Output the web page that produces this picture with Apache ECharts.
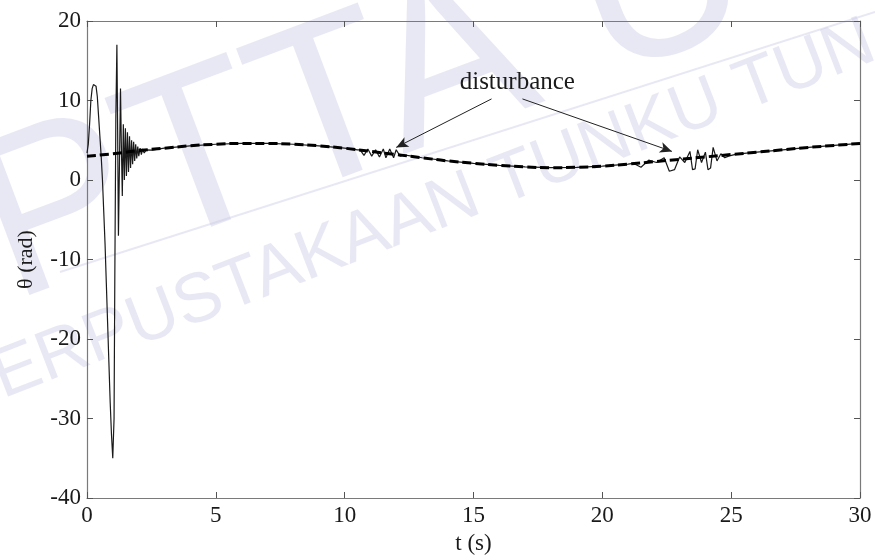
<!DOCTYPE html>
<html><head><meta charset="utf-8">
<script src="https://cdn.jsdelivr.net/npm/echarts@6/dist/echarts.min.js"></script>
<style>html,body{margin:0;padding:0;background:#fff}#c{width:875px;height:560px}</style>
</head><body><div id="c"></div>
<script>
// ---- data ----
const xTickLabels = ['0','5','10','15','20','25','30'];
const yTickLabels = ['-40','-30','-20','-10','0','10','20'];

// reference trajectory (dashed)
const refT = [0,1,2,3,4,5,6,7,8,9,10,11,12,13,14,15,16,17,18,19,20,21,22,23,24,25,26,27,28,29,30];
const refV = [3.0,3.3,3.7,4.0,4.3,4.5,4.6,4.6,4.5,4.3,4.0,3.6,3.2,2.8,2.4,2.1,1.85,1.65,1.55,1.6,1.75,2.0,2.3,2.6,2.9,3.2,3.5,3.8,4.1,4.35,4.6];

// actual response (solid)
const solidT = [0,0.05,0.1,0.15,0.2,0.25,0.3,0.35,0.4,0.45,0.5,0.55,0.6,0.65,0.7,0.75,0.8,0.85,0.9,0.95,1.0,
  1.05,1.08,1.12,1.16,1.19,1.22,1.26,1.3,1.33,1.37,1.41,1.45,1.49,1.53,1.57,1.61,1.65,1.69,1.73,1.77,1.81,1.85,1.89,1.93,1.97,2.01,2.06,2.11,2.16,2.22,2.3,2.5,
  3,4,5,6,7,8,9,10,10.5,
  10.6,10.75,10.9,11.05,11.2,11.35,11.5,11.6,11.75,11.9,12.0,12.15,12.3,
  13,14,15,16,17,18,19,20,21,
  21.2,21.5,21.8,22.1,22.4,22.6,22.8,23.0,23.2,23.4,23.5,23.6,23.7,23.85,24.0,24.1,24.2,24.3,24.45,24.6,24.75,24.9,25.2,
  26,27,28,29,30];
const solidV = [3.4,4.5,7,10,11.5,12,12,11.8,10.5,8,5.5,3,0,-4,-8,-13,-18,-23,-28,-32,-35,
  -30,-12,8,17,6,-7,2,11.5,5,-2,7,0,6.5,0.5,6,1,5.5,1.5,5,2,4.8,2.4,4.5,2.7,4.2,3.0,4.0,3.2,3.9,3.4,3.8,3.75,
  4.0,4.3,4.5,4.6,4.6,4.5,4.3,4.0,3.8,
  3.8,3.1,3.9,3.0,3.8,2.9,3.9,2.8,3.9,2.8,3.8,3.0,3.15,
  2.8,2.4,2.1,1.85,1.65,1.55,1.6,1.75,2.0,
  2.1,1.6,2.5,2.2,2.8,1.1,1.3,2.9,2.2,3.6,1.3,1.4,3.8,2.2,3.5,1.3,1.5,4.1,2.4,3.3,2.8,3.0,3.25,
  3.5,3.8,4.1,4.35,4.6];

// annotation
const annotText = 'disturbance';
const annotPos = [16.7, 12.3];
const arrowFrom = [[15.7, 10.2], [16.9, 10.2]];
const arrowTo = [[12.0, 4.1], [22.7, 3.6]];

// ---- chart ----
const font = 'Liberation Serif';
const chart = echarts.init(document.getElementById('c'), null, {renderer: 'canvas'});
const axisLine = {show: true, onZero: false, lineStyle: {color: '#7a7a7a', width: 1.2}};
const ticks = {show: true, inside: true, length: 6, lineStyle: {color: '#555', width: 1}};
const lbl = {color: '#1a1a1a', fontFamily: font, fontSize: 23};
const wm = 'rgba(200,200,228,0.42)';

chart.setOption({
  animation: false,
  backgroundColor: '#fff',
  graphic: [
    {type: 'group', z: -10, silent: true, children: [
      {type: 'text', x: 30, y: 350, rotation: 0.36, style: {text: 'PTTA UTHM', font: '230px "Liberation Sans"', fill: wm, textAlign: 'left', textVerticalAlign: 'bottom'}},
      {type: 'text', x: -35, y: 430, rotation: 0.37, style: {text: 'PERPUSTAKAAN TUNKU TUN AMINAH', font: '70px "Liberation Sans"', fill: wm, textAlign: 'left', textVerticalAlign: 'bottom'}},
      {type: 'line', shape: {x1: 60, y1: 272, x2: 875, y2: 12}, style: {stroke: wm, lineWidth: 2}}
    ]}
  ],
  grid: {left: 87, right: 15, top: 21, bottom: 61, containLabel: false},
  xAxis: [
    {type: 'value', min: 0, max: 30, interval: 5, position: 'bottom',
     axisLine: axisLine, axisTick: ticks, splitLine: {show: false},
     axisLabel: Object.assign({margin: 6, formatter: v => xTickLabels[xTickLabels.indexOf(String(v))]}, lbl),
     name: 't (s)', nameLocation: 'middle', nameGap: 34,
     nameTextStyle: {color: '#1a1a1a', fontFamily: font, fontSize: 23}},
    {type: 'value', min: 0, max: 30, interval: 5, position: 'top',
     axisLine: axisLine, axisTick: ticks, splitLine: {show: false}, axisLabel: {show: false}}
  ],
  yAxis: [
    {type: 'value', min: -40, max: 20, interval: 10, position: 'left',
     axisLine: axisLine, axisTick: ticks, splitLine: {show: false},
     axisLabel: Object.assign({margin: 6, formatter: v => yTickLabels[yTickLabels.indexOf(String(v))]}, lbl),
     name: 'θ (rad)', nameLocation: 'middle', nameGap: 50, nameRotate: 90,
     nameTextStyle: {color: '#1a1a1a', fontFamily: font, fontSize: 22}},
    {type: 'value', min: -40, max: 20, interval: 10, position: 'right',
     axisLine: axisLine, axisTick: ticks, splitLine: {show: false}, axisLabel: {show: false}}
  ],
  series: [
    {type: 'line', name: 'actual', data: solidT.map((t, i) => [t, solidV[i]]),
     showSymbol: false, symbol: 'none', lineStyle: {color: '#1a1a1a', width: 1.2}, z: 3},
    {type: 'line', name: 'reference', data: refT.map((t, i) => [t, refV[i]]), smooth: true,
     showSymbol: false, symbol: 'none', lineStyle: {color: '#000', width: 3, type: [9, 4]}, z: 4,
     markLine: {silent: true, symbol: ['none', 'arrow'], symbolSize: [8, 12],
       lineStyle: {color: '#222', width: 1, type: 'solid'}, label: {show: false},
       data: arrowFrom.map((f, i) => [{coord: f}, {coord: arrowTo[i]}])},
     markPoint: {silent: true, symbol: 'circle', symbolSize: 0,
       data: [{coord: annotPos, value: annotText}],
       label: {show: true, position: 'inside', formatter: annotText, color: '#1a1a1a', fontFamily: font, fontSize: 25}}}
  ]
});
</script>
</body></html>
